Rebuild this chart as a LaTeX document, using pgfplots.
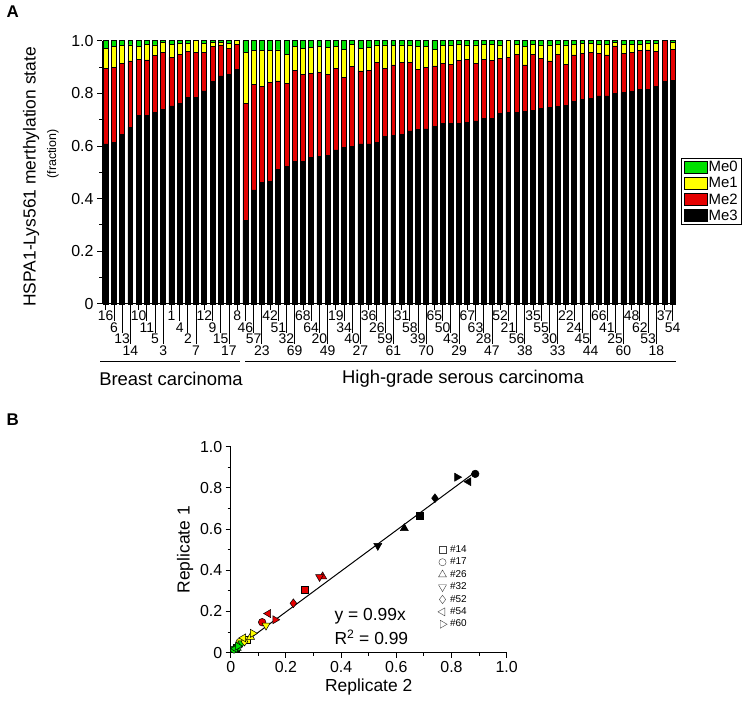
\documentclass[border=0pt]{standalone}
\usepackage{fontspec}
\setmainfont{Liberation Sans}
\usepackage{pgfplots}
\usepackage{pgfplotstable}
\pgfplotsset{compat=1.18}
\definecolor{meG}{RGB}{0,225,0}
\definecolor{meY}{RGB}{255,255,0}
\definecolor{meR}{RGB}{228,0,0}
\newcommand\lbl{\fontsize{14}{14}\selectfont}
\newcommand\tck{\fontsize{16}{16}\selectfont}
\newcommand\ttl{\fontsize{17.5}{17.5}\selectfont}

\pgfplotstableread{
i me3 me2 me1 me0
0 0.608 0.287 0.076 0.029
1 0.614 0.283 0.080 0.023
2 0.643 0.271 0.067 0.019
3 0.671 0.252 0.061 0.016
4 0.715 0.215 0.047 0.023
5 0.716 0.211 0.060 0.013
6 0.729 0.215 0.040 0.016
7 0.739 0.217 0.036 0.008
8 0.752 0.185 0.050 0.013
9 0.761 0.187 0.042 0.010
10 0.784 0.175 0.031 0.010
11 0.785 0.169 0.046 0.000
12 0.809 0.145 0.036 0.010
13 0.844 0.133 0.015 0.008
14 0.866 0.118 0.011 0.005
15 0.873 0.098 0.019 0.010
16 0.891 0.096 0.013 0.000
17 0.316 0.446 0.192 0.046
18 0.433 0.401 0.128 0.038
19 0.463 0.362 0.137 0.038
20 0.465 0.377 0.120 0.038
21 0.511 0.336 0.118 0.035
22 0.522 0.316 0.111 0.051
23 0.543 0.343 0.091 0.023
24 0.543 0.329 0.099 0.029
25 0.556 0.320 0.099 0.025
26 0.562 0.318 0.097 0.023
27 0.565 0.307 0.103 0.025
28 0.585 0.310 0.082 0.023
29 0.594 0.267 0.107 0.032
30 0.600 0.303 0.083 0.014
31 0.608 0.277 0.086 0.029
32 0.608 0.278 0.089 0.025
33 0.614 0.304 0.066 0.016
34 0.638 0.258 0.088 0.016
35 0.639 0.269 0.073 0.019
36 0.644 0.274 0.066 0.016
37 0.657 0.261 0.066 0.016
38 0.663 0.228 0.086 0.023
39 0.665 0.234 0.078 0.023
40 0.675 0.229 0.063 0.033
41 0.685 0.229 0.067 0.019
42 0.685 0.226 0.073 0.016
43 0.687 0.237 0.062 0.014
44 0.690 0.239 0.055 0.016
45 0.695 0.219 0.070 0.016
46 0.705 0.224 0.057 0.014
47 0.705 0.219 0.063 0.013
48 0.724 0.209 0.051 0.016
49 0.726 0.211 0.063 0.000
50 0.729 0.220 0.038 0.013
51 0.731 0.177 0.069 0.023
52 0.735 0.213 0.039 0.013
53 0.743 0.190 0.051 0.016
54 0.747 0.176 0.061 0.016
55 0.749 0.199 0.039 0.013
56 0.755 0.155 0.074 0.016
57 0.768 0.178 0.041 0.013
58 0.777 0.175 0.038 0.010
59 0.782 0.172 0.036 0.010
60 0.790 0.162 0.035 0.013
61 0.790 0.156 0.041 0.013
62 0.800 0.180 0.012 0.008
63 0.803 0.149 0.034 0.014
64 0.808 0.146 0.033 0.013
65 0.815 0.147 0.025 0.013
66 0.816 0.149 0.025 0.010
67 0.825 0.133 0.032 0.010
68 0.844 0.156 0.000 0.000
69 0.849 0.118 0.025 0.008
}\methyl

\begin{document}
\begin{tikzpicture}[x=1bp,y=1bp]
\useasboundingbox (0,0) rectangle (746,704);

% ---------------- Panel A ----------------
\begin{axis}[
  at={(102bp,400bp)}, anchor=south west,
  scale only axis, width=574bp, height=263.3bp,
  xmin=-0.45, xmax=69.4, ymin=0, ymax=1,
  axis x line*=bottom, axis y line*=left,
  axis line style={line width=1bp},
  ybar stacked, bar width=0.6,
  xtick=\empty,
  ytick={0,0.2,0.4,0.6,0.8,1.0},
  yticklabels={0,0.2,0.4,0.6,0.8,1.0},
  minor ytick={0.1,0.3,0.5,0.7,0.9},
  tick align=outside,
  major tick length=5bp, minor tick length=3bp,
  tick style={line width=1bp, black},
  yticklabel style={font=\tck},
  /pgf/number format/assume math mode=true,
  clip=false,
  legend image code/.code={\draw[#1] (0bp,-6bp) rectangle (23bp,6bp);},
  reverse legend,
  legend cell align=left,
  legend style={at={(1.0087,0.5545)}, anchor=north west, draw=black,
    line width=1bp, font=\fontsize{15}{15}\selectfont, inner xsep=2bp, inner ysep=1.5bp,
    row sep=1.2bp, nodes={inner sep=1.5bp}},
]
\addplot[fill=black, draw=black, line width=0.7bp] table[x=i, y=me3] {\methyl};
\addlegendentry{Me3}
\addplot[fill=meR, draw=black, line width=0.7bp] table[x=i, y=me2] {\methyl};
\addlegendentry{Me2}
\addplot[fill=meY, draw=black, line width=0.7bp] table[x=i, y=me1] {\methyl};
\addlegendentry{Me1}
\addplot[fill=meG, draw=black, line width=0.7bp] table[x=i, y=me0] {\methyl};
\addlegendentry{Me0}

\foreach \i/\lab in {0/16,1/6,2/13,3/14,4/10,5/11,6/5,7/3,8/1,9/4,10/2,11/7,12/12,13/9,14/15,15/17,16/8,
  17/46,18/57,19/23,20/42,21/51,22/32,23/69,24/68,25/64,26/20,27/49,28/19,29/34,30/40,31/27,32/36,33/26,
  34/59,35/61,36/31,37/58,38/39,39/70,40/65,41/50,42/43,43/29,44/67,45/63,46/28,47/47,48/52,49/21,50/56,
  51/38,52/35,53/55,54/30,55/33,56/22,57/24,58/45,59/44,60/66,61/41,62/25,63/60,64/48,65/62,66/53,67/18,
  68/37,69/54}{
  \pgfmathtruncatemacro\r{mod(\i,4)}
  \pgfmathsetmacro\len{6+11.5*\r}
  \edef\temp{\noexpand\draw[black,line width=0.8bp] (axis cs:\i,0) -- ([yshift=-\len bp]axis cs:\i,0);
    \noexpand\node[font=\noexpand\lbl, anchor=north, inner sep=0pt] at ([yshift=-\len bp-1bp]axis cs:\i,0) {\lab};}
  \temp
}
\end{axis}

% group brackets
\draw[line width=1bp] (100,342) -- (240,342);
\draw[line width=1bp] (245,342) -- (676,342);
\node[font=\fontsize{18.5}{18.5}\selectfont] at (171,325) {Breast carcinoma};
\node[font=\fontsize{18.5}{18.5}\selectfont] at (463,325) {High-grade serous carcinoma};

% y label A
\node[rotate=90, font=\ttl] at (31,527) {HSPA1-Lys561 merthylation state};
\node[rotate=90, font=\fontsize{12.5}{12.5}\selectfont] at (53,550) {(fraction)};

\node[font=\bfseries\fontsize{17}{17}\selectfont, anchor=north west] at (3,702) {A};
\node[font=\bfseries\fontsize{17}{17}\selectfont, anchor=north west] at (3,294) {B};

% ---------------- Panel B ----------------
\begin{axis}[
  at={(230.7bp,51.3bp)}, anchor=south west,
  scale only axis, width=276bp, height=206bp,
  xmin=0, xmax=1, ymin=0, ymax=1,
  axis x line*=bottom, axis y line*=left,
  axis line style={line width=1bp},
  xtick={0,0.2,0.4,0.6,0.8,1.0},
  xticklabels={0,0.2,0.4,0.6,0.8,1.0},
  ytick={0,0.2,0.4,0.6,0.8,1.0},
  yticklabels={0,0.2,0.4,0.6,0.8,1.0},
  minor xtick={0.1,0.3,0.5,0.7,0.9},
  minor ytick={0.1,0.3,0.5,0.7,0.9},
  tick align=outside,
  major tick length=5bp, minor tick length=3bp,
  tick style={line width=1bp, black},
  ticklabel style={font=\tck},
  /pgf/number format/assume math mode=true,
  xlabel={Replicate 2}, ylabel={Replicate 1},
  label style={font=\ttl},
  clip=false,
  legend cell align=left,
  legend style={at={(0.75,0.53)}, anchor=north west, draw=none, fill=none,
    font=\fontsize{10}{10}\selectfont, row sep=0bp, inner sep=0pt,
    nodes={inner xsep=3bp}},
  scatter/classes={
    k={fill=black},
    r={fill=meR},
    y={fill=meY},
    g={fill=meG}},
]
\addplot[black, line width=1bp, forget plot] coordinates {(0.005,0.005) (0.885,0.876)};

\addplot[forget plot, scatter, only marks, scatter src=explicit symbolic, mark=square*, mark size=3.4bp,
  mark options={draw=black, line width=0.5bp}] coordinates {
  (0.684,0.663) [k] (0.268,0.305) [r] (0.058,0.062) [y] (0.020,0.024) [g]};
\addplot[forget plot, scatter, only marks, scatter src=explicit symbolic, mark=*, mark size=3.8bp,
  mark options={draw=black, line width=0.5bp}] coordinates {
  (0.886,0.868) [k] (0.114,0.148) [r] (0.033,0.052) [y] (0.012,0.016) [g]};
\addplot[forget plot, scatter, only marks, scatter src=explicit symbolic, mark=triangle*, mark size=4.6bp,
  mark options={draw=black, line width=0.5bp}] coordinates {
  (0.629,0.604) [k] (0.333,0.370) [r] (0.072,0.076) [y] (0.024,0.022) [g]};
\addplot[forget plot, scatter, only marks, scatter src=explicit symbolic, mark=triangle*, mark size=4.6bp,
  mark options={draw=black, line width=0.5bp, rotate=180}] coordinates {
  (0.533,0.519) [k] (0.322,0.368) [r] (0.128,0.132) [y] (0.040,0.046) [g]};
\addplot[forget plot, scatter, only marks, scatter src=explicit symbolic, mark=diamond*, mark size=4.4bp,
  mark options={draw=black, line width=0.5bp}] coordinates {
  (0.740,0.750) [k] (0.227,0.240) [r] (0.050,0.054) [y] (0.022,0.030) [g]};
\addplot[forget plot, scatter, only marks, scatter src=explicit symbolic, mark=triangle*, mark size=4.6bp,
  mark options={draw=black, line width=0.5bp, rotate=90}] coordinates {
  (0.862,0.830) [k] (0.136,0.190) [r] (0.046,0.072) [y] (0.016,0.020) [g]};
\addplot[forget plot, scatter, only marks, scatter src=explicit symbolic, mark=triangle*, mark size=4.6bp,
  mark options={draw=black, line width=0.5bp, rotate=-90}] coordinates {
  (0.820,0.852) [k] (0.161,0.160) [r] (0.080,0.094) [y] (0.026,0.032) [g]};

\addlegendimage{only marks, mark=square, mark size=3.2bp, mark options={draw=black!75, fill=white}}\addlegendentry{\#14}
\addlegendimage{only marks, mark=o, mark size=3.6bp, mark options={draw=black!75, fill=white}}\addlegendentry{\#17}
\addlegendimage{only marks, mark=triangle, mark size=4.6bp, mark options={draw=black!75, fill=white}}\addlegendentry{\#26}
\addlegendimage{only marks, mark=triangle, mark size=4.6bp, mark options={draw=black!75, fill=white, rotate=180}}\addlegendentry{\#32}
\addlegendimage{only marks, mark=diamond, mark size=4.2bp, mark options={draw=black!75, fill=white}}\addlegendentry{\#52}
\addlegendimage{only marks, mark=triangle, mark size=4.6bp, mark options={draw=black!75, fill=white, rotate=90}}\addlegendentry{\#54}
\addlegendimage{only marks, mark=triangle, mark size=4.6bp, mark options={draw=black!75, fill=white, rotate=-90}}\addlegendentry{\#60}
\end{axis}

\node[font=\ttl, anchor=west] at (331,88) {y = 0.99x};
\node[font=\ttl, anchor=west] at (331,67) {R\textsuperscript{2} = 0.99};
\end{tikzpicture}
\end{document}
